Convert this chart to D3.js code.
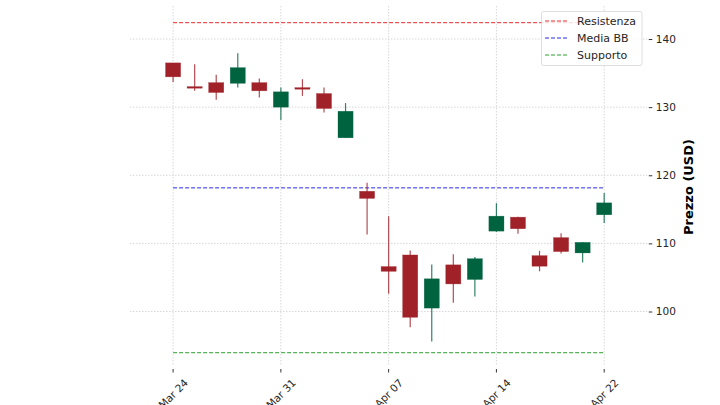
<!DOCTYPE html>
<html><head><meta charset="utf-8">
<script src="https://cdn.jsdelivr.net/npm/d3@7"></script>
<style>
html,body{margin:0;padding:0;background:#fff;}
svg{display:block;font-family:"DejaVu Sans",sans-serif;}
</style></head>
<body>
<svg id="chart" width="720" height="405"></svg>
<script>
const dates = ["2025-03-24","2025-03-25","2025-03-26","2025-03-27","2025-03-28","2025-03-31","2025-04-01","2025-04-02","2025-04-03","2025-04-04","2025-04-07","2025-04-08","2025-04-09","2025-04-10","2025-04-11","2025-04-14","2025-04-15","2025-04-16","2025-04-17","2025-04-21","2025-04-22"];
const opens  = [136.5,132.95,133.6,133.5,133.6,130.0,132.8,132.0,125.5,117.65,106.6,108.3,100.5,106.85,104.7,111.8,113.85,108.2,110.85,108.6,114.2];
const highs  = [136.5,136.3,134.75,137.9,134.2,132.9,134.1,132.9,130.6,118.9,114.0,108.95,106.9,108.4,108.0,115.9,113.9,108.9,111.5,110.2,117.4];
const lows   = [133.7,132.4,131.1,132.9,131.4,128.1,131.65,129.2,125.5,111.3,102.6,97.7,95.6,101.3,102.2,111.7,111.4,105.9,108.5,107.2,113.0];
const closes = [134.45,132.85,132.15,135.8,132.4,132.25,132.7,129.8,129.4,116.6,105.9,99.15,104.8,104.05,107.75,114.0,112.15,106.65,108.8,110.15,115.95];
const levelNames = ["Resistenza","Media BB","Supporto"];
const levelValues = [142.4,118.15,93.95];
const levelColors = ["#e8282a","#2a2af0","#2ca02c"];
const xTickIdx = [0,5,10,15,20];
const xTickLabels = ["Mar 24","Mar 31","Apr 07","Apr 14","Apr 22"];
const yTicks = [100,110,120,130,140];
const upColor = "#006340", downColor = "#A02128";

const svg = d3.select("#chart");
const L = 130, R = 647.3, T = 6, B = 366;
const x = d3.scaleLinear().domain([-2, 22]).range([L, R]);
const y = d3.scaleLinear().domain([92.0, 144.85]).range([B, T]);

// grid
const g = svg.append("g");
g.selectAll("line.vg").data(xTickIdx).enter().append("line")
  .attr("x1", d => x(d)).attr("x2", d => x(d)).attr("y1", T).attr("y2", B)
  .attr("stroke", "#d4d4d4").attr("stroke-width", 0.9).attr("stroke-dasharray", "1.5,1.5");
g.selectAll("line.hg").data(yTicks).enter().append("line")
  .attr("x1", L).attr("x2", R).attr("y1", d => y(d)).attr("y2", d => y(d))
  .attr("stroke", "#d4d4d4").attr("stroke-width", 0.9).attr("stroke-dasharray", "1.5,1.5");

// level lines
svg.selectAll("line.lvl").data(levelValues).enter().append("line")
  .attr("x1", x(0)).attr("x2", x(dates.length - 1))
  .attr("y1", d => y(d)).attr("y2", d => y(d))
  .attr("stroke", (d, i) => levelColors[i]).attr("stroke-width", 1)
  .attr("stroke-dasharray", "4,2");

// candles
const bw = 0.7 * (x(1) - x(0));
const cg = svg.append("g");
dates.forEach((d, i) => {
  const up = closes[i] >= opens[i];
  const col = up ? upColor : downColor;
  cg.append("line").attr("x1", x(i)).attr("x2", x(i))
    .attr("y1", y(highs[i])).attr("y2", y(lows[i]))
    .attr("stroke", col).attr("stroke-width", 1.2).attr("stroke-opacity", 0.8);
  const top = y(Math.max(opens[i], closes[i]));
  const bot = y(Math.min(opens[i], closes[i]));
  const h = Math.max(bot - top, 1.6);
  cg.append("rect").attr("x", x(i) - bw / 2).attr("y", (top + bot) / 2 - h / 2)
    .attr("width", bw).attr("height", h).attr("fill", col)
    .attr("stroke", col).attr("stroke-width", 0.5).attr("stroke-opacity", 0.6);
});

// y axis (right)
const yAxis = d3.axisRight(y).tickValues(yTicks).tickSize(3.5).tickPadding(3.5);
const ya = svg.append("g").attr("transform", `translate(${R + 1.5},0)`).call(yAxis);
ya.select(".domain").remove();
ya.selectAll(".tick line").attr("stroke", "#333");
ya.selectAll(".tick text").attr("font-size", 10.5).attr("fill", "#262626").attr("font-family", "DejaVu Sans");

// x axis ticks
const xa = svg.append("g");
xTickIdx.forEach((d, k) => {
  xa.append("line").attr("x1", x(d)).attr("x2", x(d)).attr("y1", B + 3).attr("y2", B + 6.5)
    .attr("stroke", "#333").attr("stroke-width", 1);
  const t = xa.append("text").text(xTickLabels[k]).attr("font-size", 10.5).attr("fill", "#262626")
    .attr("text-anchor", "middle").attr("dominant-baseline", "central");
  const w = t.node().getComputedTextLength();
  const hh = 10.5;
  const half = (w + hh) * Math.SQRT1_2 / 2;
  const cx = x(d), cy = B + 11 + half;
  t.attr("x", cx).attr("y", cy).attr("transform", `rotate(-45,${cx},${cy})`);
});

// y label
svg.append("text").text("Prezzo (USD)").attr("font-size", 13).attr("font-weight", "bold")
  .attr("fill", "#000").attr("text-anchor", "middle")
  .attr("transform", "translate(693,187) rotate(-90)");

// legend
const lg = svg.append("g");
lg.append("rect").attr("x", 541.5).attr("y", 11.5).attr("width", 100.5).attr("height", 54)
  .attr("rx", 2).attr("fill", "#fff").attr("fill-opacity", 0.8)
  .attr("stroke", "#d6d6d6").attr("stroke-width", 0.8);
levelNames.forEach((n, i) => {
  const yy = 21 + i * 17;
  lg.append("line").attr("x1", 545).attr("x2", 568).attr("y1", yy).attr("y2", yy)
    .attr("stroke", levelColors[i]).attr("stroke-width", 1).attr("stroke-dasharray", "4,2");
  lg.append("text").text(n).attr("x", 577).attr("y", yy).attr("dominant-baseline", "central")
    .attr("font-size", 11).attr("fill", "#262626");
});
</script>
</body></html>
